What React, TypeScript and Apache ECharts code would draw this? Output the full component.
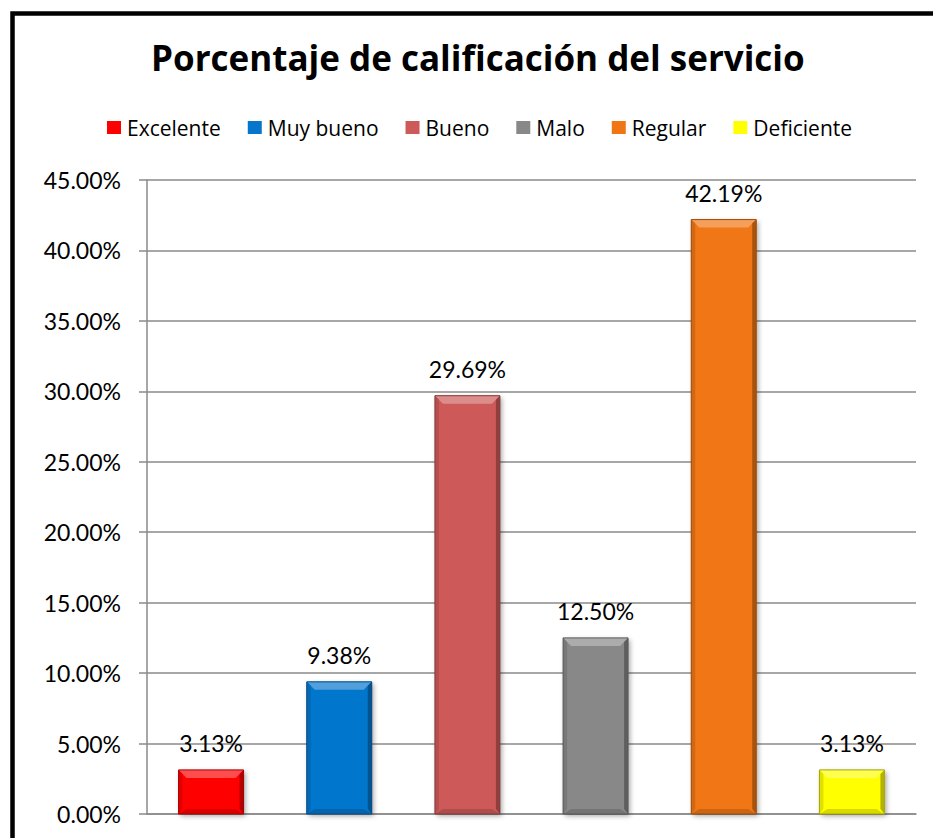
import React, { useEffect, useRef } from "react";
import * as echarts from "echarts";

const titleText = "Porcentaje de calificación del servicio";
const categories = ["Excelente", "Muy bueno", "Bueno", "Malo", "Regular", "Deficiente"];
const values = [3.13, 9.38, 29.69, 12.5, 42.19, 3.13];
const colors = ["#FF0000", "#0676CC", "#CD5A58", "#888888", "#F07614", "#FFFF00"];
const yMin = 0;
const yMax = 45;
const yInterval = 5;

const FONT = "Lato";
const FONT2 = "Open Sans";

function hexToRgb(hex: string): number[] {
  const h = hex.replace("#", "");
  return [0, 2, 4].map((i) => parseInt(h.slice(i, i + 2), 16));
}
function mix(hex: string, target: number, t: number): string {
  const c = hexToRgb(hex).map((v) => Math.round(v + (target - v) * t));
  return `rgb(${c[0]},${c[1]},${c[2]})`;
}

export default function App() {
  const ref = useRef<HTMLDivElement>(null);
  useEffect(() => {
    if (!ref.current) return;
    const chart = echarts.init(ref.current, undefined, { renderer: "svg" });
    const series = categories.map((name, i) => ({
      name,
      type: "custom",
      itemStyle: { color: colors[i] },
      encode: { x: 0, y: 1 },
      data: [[i, values[i]]],
      renderItem: (params: any, api: any) => {
        const idx = api.value(0);
        const v = api.value(1);
        const top = api.coord([idx, v]);
        const base = api.coord([idx, 0]);
        const w = api.size([1, 0])[0] * 0.507;
        const x0 = top[0] - w / 2;
        const x1 = top[0] + w / 2;
        const y0 = top[1];
        const y1 = base[1];
        const c = colors[i];
        const tb = 8;
        const sb = 4;
        const bb = 5;
        return {
          type: "group",
          children: [
            {
              type: "rect",
              shape: { x: x0, y: y0, width: x1 - x0, height: y1 - y0 },
              style: {
                fill: c,
                shadowBlur: 5,
                shadowColor: "rgba(0,0,0,0.35)",
                shadowOffsetX: 2,
                shadowOffsetY: 2,
              },
            },
            {
              type: "polygon",
              shape: { points: [[x0, y0], [x1, y0], [x1 - tb, y0 + tb], [x0 + tb, y0 + tb]] },
              style: { fill: mix(c, 255, 0.3) },
            },
            {
              type: "polygon",
              shape: { points: [[x0, y0], [x0 + sb, y0 + sb], [x0 + sb, y1 - bb], [x0, y1]] },
              style: { fill: mix(c, 0, 0.12) },
            },
            {
              type: "polygon",
              shape: { points: [[x1, y0], [x1 - sb, y0 + sb], [x1 - sb, y1 - bb], [x1, y1]] },
              style: { fill: mix(c, 0, 0.3) },
            },
            {
              type: "polygon",
              shape: { points: [[x0, y1], [x0 + bb + 3, y1 - bb], [x1 - bb - 3, y1 - bb], [x1, y1]] },
              style: { fill: mix(c, 0, 0.15) },
            },
            {
              type: "rect",
              shape: { x: x0, y: y0, width: x1 - x0, height: y1 - y0 },
              style: { fill: "none", stroke: mix(c, 0, 0.35), lineWidth: 1 },
            },
            {
              type: "text",
              x: top[0],
              y: y0 - 15,
              style: {
                text: v.toFixed(2) + "%",
                fill: "#000",
                fontSize: 23,
                fontFamily: FONT,
                align: "center",
                verticalAlign: "bottom",
              },
            },
          ],
        };
      },
    }));

    chart.setOption({
      animation: false,
      backgroundColor: "#fff",
      title: {
        text: titleText,
        left: 146,
        top: 35,
        textStyle: { fontFamily: FONT2, fontWeight: "bold", fontSize: 35, color: "#000" },
      },
      legend: {
        data: categories,
        top: 112,
        left: 102,
        icon: "rect",
        itemWidth: 14,
        itemHeight: 13,
        itemGap: 27,
        textStyle: { fontFamily: FONT2, fontSize: 21, color: "#000", padding: [0, 0, 0, 1] },
      },
      grid: { left: 147, right: 17, top: 180, bottom: 24, containLabel: false },
      xAxis: {
        type: "category",
        data: categories,
        axisLine: { show: true, lineStyle: { color: "#8a8a8a", width: 1.5 } },
        axisTick: { show: false },
        axisLabel: { show: false },
      },
      yAxis: {
        type: "value",
        min: yMin,
        max: yMax,
        interval: yInterval,
        axisLine: { show: true, lineStyle: { color: "#8a8a8a", width: 1.5 } },
        axisTick: { show: true, length: 8, lineStyle: { color: "#8a8a8a", width: 1.5 } },
        splitLine: { show: true, lineStyle: { color: "#8a8a8a", width: 1.5 } },
        axisLabel: {
          margin: 26,
          fontFamily: FONT,
          fontSize: 23,
          color: "#000",
          formatter: (val: number) => val.toFixed(2) + "%",
        },
      },
      graphic: [
        {
          type: "rect",
          silent: true,
          z: 100,
          shape: { x: 12.5, y: 13.5, width: 960, height: 900 },
          style: { fill: "none", stroke: "#000", lineWidth: 4.5 },
        },
      ],
      series,
    });
    return () => chart.dispose();
  }, []);
  return (
    <div
      ref={ref}
      style={{ position: "fixed", left: 0, top: 0, width: 933, height: 838, background: "#fff" }}
    />
  );
}
